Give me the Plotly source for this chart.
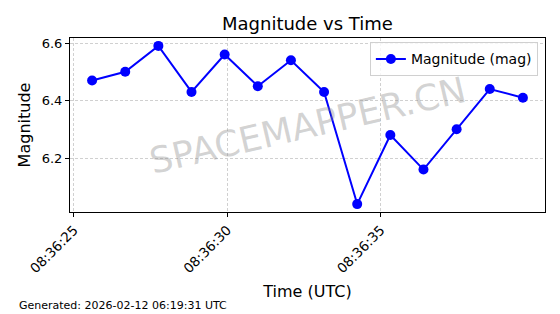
import plotly.graph_objects as go

times = ["2026-02-12 08:36:25.59", "2026-02-12 08:36:26.67", "2026-02-12 08:36:27.75",
         "2026-02-12 08:36:28.83", "2026-02-12 08:36:29.91", "2026-02-12 08:36:30.99",
         "2026-02-12 08:36:32.07", "2026-02-12 08:36:33.15", "2026-02-12 08:36:34.23",
         "2026-02-12 08:36:35.31", "2026-02-12 08:36:36.39", "2026-02-12 08:36:37.47",
         "2026-02-12 08:36:38.55", "2026-02-12 08:36:39.63"]
magnitudes = [6.47, 6.50, 6.59, 6.43, 6.56, 6.45, 6.54, 6.43, 6.04, 6.28, 6.16, 6.30, 6.44, 6.41]
x_tick_vals = ["2026-02-12 08:36:25", "2026-02-12 08:36:30", "2026-02-12 08:36:35"]
x_tick_text = ["08:36:25", "08:36:30", "08:36:35"]
y_tick_vals = [6.2, 6.4, 6.6]
y_tick_text = ["6.2", "6.4", "6.6"]

FONT = "DejaVu Sans"

fig = go.Figure()
fig.add_trace(go.Scatter(
    x=times, y=magnitudes, mode="lines+markers", name="Magnitude (mag)",
    line=dict(color="#0000ff", width=2),
    marker=dict(color="#0000ff", size=10),
))

fig.update_layout(
    width=560, height=314,
    margin=dict(l=70, r=15, t=38, b=102),
    paper_bgcolor="white", plot_bgcolor="white",
    font=dict(family=FONT, color="black", size=13),
    title=dict(text="Magnitude vs Time", x=0.549, xanchor="center", y=0.925, yanchor="middle",
               font=dict(family=FONT, size=18, color="black")),
    showlegend=True,
    legend=dict(x=0.985, xanchor="right", y=0.975, yanchor="top",
                bgcolor="rgba(255,255,255,0.8)", bordercolor="#d0d0d0", borderwidth=1,
                font=dict(family=FONT, size=14)),
    xaxis=dict(
        type="date",
        range=["2026-02-12 08:36:24.87", "2026-02-12 08:36:40.35"],
        tickvals=x_tick_vals, ticktext=x_tick_text, tickangle=-45,
        ticks="outside", ticklen=4, tickcolor="black",
        showline=True, linecolor="black", linewidth=1, mirror=True,
        showgrid=True, gridcolor="#d0d0d0", griddash="3px,2px", gridwidth=1,
        zeroline=False,
        title=dict(text="Time (UTC)", font=dict(family=FONT, size=16), standoff=10),
        tickfont=dict(family=FONT, size=13.5),
    ),
    yaxis=dict(
        range=[6.0125, 6.6175],
        tickvals=y_tick_vals, ticktext=y_tick_text,
        ticks="outside", ticklen=4, tickcolor="black",
        showline=True, linecolor="black", linewidth=1, mirror=True,
        showgrid=True, gridcolor="#d0d0d0", griddash="3px,2px", gridwidth=1,
        zeroline=False,
        title=dict(text="Magnitude", font=dict(family=FONT, size=16), standoff=7),
        tickfont=dict(family=FONT, size=13),
    ),
)

fig.add_annotation(
    text="SPACEMAPPER.CN", xref="paper", yref="paper", x=0.5, y=0.5,
    showarrow=False, textangle=-13,
    font=dict(family=FONT, size=36, color="rgba(128,128,128,0.35)"),
)
fig.add_annotation(
    text="Generated: 2026-02-12 06:19:31 UTC", xref="paper", yref="paper",
    x=(17 - 70) / 475, y=(212 - 305) / 174, xanchor="left", yanchor="middle",
    showarrow=False, font=dict(family=FONT, size=11, color="black"),
)

fig.write_html("out.html")
